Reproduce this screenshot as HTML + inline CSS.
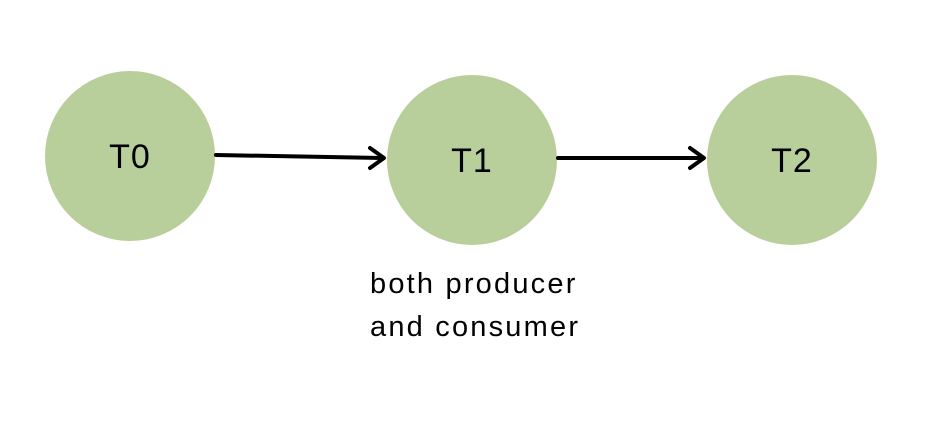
<!DOCTYPE html>
<html><head><meta charset="utf-8"><style>
body{margin:0;background:#fff;width:927px;height:424px;overflow:hidden}
</style></head><body>
<svg width="927" height="424" viewBox="0 0 927 424" xmlns="http://www.w3.org/2000/svg">
<circle cx="130" cy="156" r="85" fill="#b9cf9b"/>
<circle cx="472" cy="160" r="85" fill="#b9cf9b"/>
<circle cx="792" cy="160" r="85" fill="#b9cf9b"/>
<g stroke="#000" stroke-width="4" fill="none" stroke-linecap="round" stroke-linejoin="round">
<line x1="216" y1="155" x2="383" y2="158"/>
<polyline points="370,148 384,158 370,168"/>
<line x1="558" y1="158" x2="703" y2="158"/>
<polyline points="690,148 704,158 690,168"/>
</g>
<g font-family="Liberation Sans, sans-serif" font-size="34" fill="#000" text-anchor="middle" letter-spacing="1">
<text x="130" y="168">T0</text>
<text x="472" y="172">T1</text>
<text x="792" y="172">T2</text>
</g>
<g font-family="Liberation Sans, sans-serif" font-size="29" fill="#000" letter-spacing="2.2">
<text x="370" y="293">both producer</text>
<text x="370" y="336">and consumer</text>
</g>
</svg>
</body></html>
